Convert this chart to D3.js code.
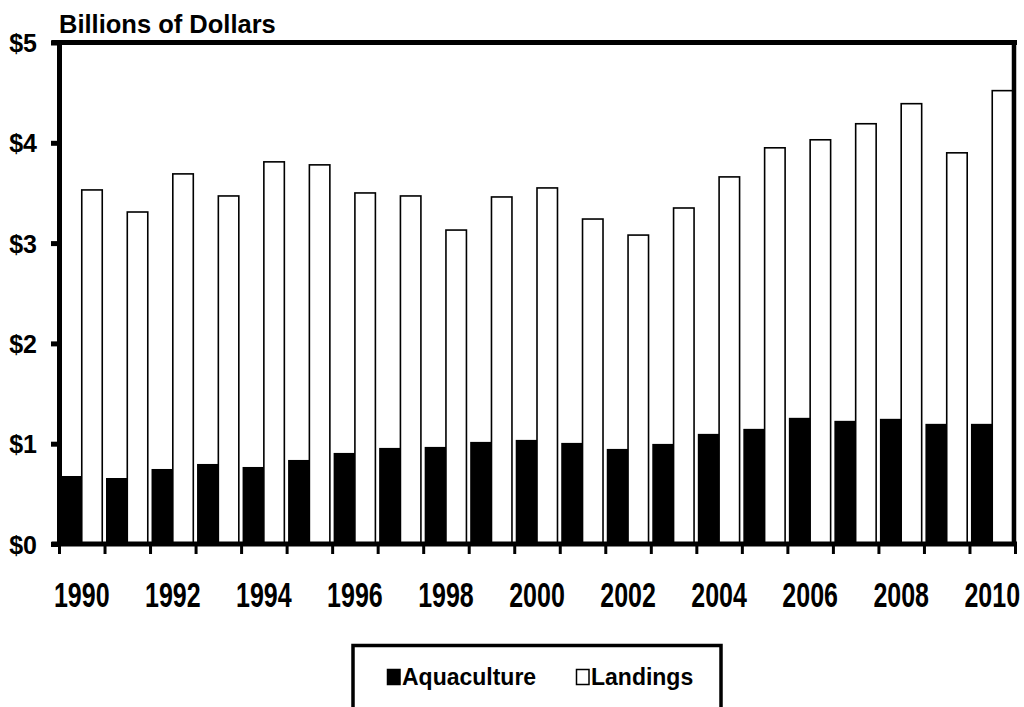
<!DOCTYPE html>
<html>
<head>
<meta charset="utf-8">
<script src="https://cdn.jsdelivr.net/npm/d3@7"></script>
<style>
  body { margin: 0; background: #fff; }
  svg text { font-family: "Liberation Sans", Arial, sans-serif; font-weight: bold; fill: #000; }
</style>
</head>
<body>
<script>
// data, billions of dollars
var years = d3.range(1990, 2011);
var aquaculture = [0.67, 0.65, 0.74, 0.79, 0.76, 0.83, 0.90, 0.95, 0.96, 1.01, 1.03,
                   1.00, 0.94, 0.99, 1.09, 1.14, 1.25, 1.22, 1.24, 1.19, 1.19];
var landings = [3.53, 3.31, 3.69, 3.47, 3.81, 3.78, 3.50, 3.47, 3.13, 3.46, 3.55,
                3.24, 3.08, 3.35, 3.66, 3.95, 4.03, 4.19, 4.39, 3.90, 4.52];
var yTicks = [0, 1, 2, 3, 4, 5];
var seriesNames = ['Aquaculture', 'Landings'];
var seriesFill = ['#000', '#fff'];

var width = 1024, height = 707;
// plot box (note: "top" is taken by window.top, so use p* names)
var pLeft = 59, pRight = 1015, pTop = 42.5, pBottom = 544;

var svg = d3.select('body').append('svg')
  .attr('width', width)
  .attr('height', height);

var x = d3.scaleBand()
  .domain(years)
  .range([pLeft, pRight])
  .paddingInner(0.1)
  .paddingOuter(0.05);

var xSub = d3.scaleBand()
  .domain(seriesNames)
  .range([0, x.bandwidth()]);

var y = d3.scaleLinear()
  .domain([0, 5])
  .range([pBottom, pTop]);

var rows = years.map((yr, i) => ({year: yr, values: [aquaculture[i], landings[i]]}));

// bars
var groups = svg.selectAll('g.year')
  .data(rows)
  .join('g')
    .attr('class', 'year')
    .attr('transform', d => `translate(${x(d.year)},0)`);

groups.selectAll('rect')
  .data(d => d.values.map((v, k) => ({name: seriesNames[k], v: v, k: k})))
  .join('rect')
    .attr('x', d => xSub(d.name))
    .attr('width', xSub.bandwidth())
    .attr('y', d => y(d.v))
    .attr('height', d => y(0) - y(d.v))
    .attr('fill', d => seriesFill[d.k])
    .attr('stroke', '#000')
    .attr('stroke-width', 1.6);

// y axis
var yAxis = svg.append('g')
  .attr('transform', `translate(${pLeft},0)`)
  .call(d3.axisLeft(y).tickValues(yTicks).tickSize(8).tickSizeOuter(0).tickPadding(14)
    .tickFormat(d => '$' + d));
yAxis.select('.domain').attr('stroke', '#000').attr('stroke-width', 5);
yAxis.selectAll('.tick line').attr('stroke', '#000').attr('stroke-width', 5);
yAxis.selectAll('.tick text').attr('font-size', 25).attr('dy', '0.36em');

// x axis: ticks sit on category boundaries
var xEdge = d3.scaleLinear().domain([1990, 2011]).range([pLeft, pRight]);
var xAxis = svg.append('g')
  .attr('transform', `translate(0,${pBottom})`)
  .call(d3.axisBottom(xEdge).tickValues(d3.range(1990, 2012)).tickSize(10).tickSizeOuter(0)
    .tickFormat(''));
xAxis.select('.domain').remove();
xAxis.selectAll('.tick line').attr('stroke', '#000').attr('stroke-width', 3);

svg.append('line')
  .attr('x1', 51.5).attr('x2', pRight + 2)
  .attr('y1', pBottom).attr('y2', pBottom)
  .attr('stroke', '#000').attr('stroke-width', 5);

// year labels (only even years), stretched tall like the original
svg.selectAll('text.year')
  .data(years.filter(d => d % 2 === 0))
  .join('text')
    .attr('class', 'year')
    .attr('text-anchor', 'middle')
    .attr('font-size', 25)
    .attr('transform', d => `translate(${x(d) + x.bandwidth() / 2},606.5) scale(1,1.4)`)
    .text(d => d);

// frame top + right
svg.append('line')
  .attr('x1', 51.5).attr('x2', pRight + 2)
  .attr('y1', pTop).attr('y2', pTop)
  .attr('stroke', '#000').attr('stroke-width', 5);
svg.append('line')
  .attr('x1', pRight - 1).attr('x2', pRight - 1)
  .attr('y1', pTop).attr('y2', pBottom)
  .attr('stroke', '#000').attr('stroke-width', 4.5);

svg.append('text')
  .attr('x', 59)
  .attr('y', 33)
  .attr('font-size', 25.5)
  .text('Billions of Dollars');

// legend
var legend = svg.append('g');
legend.append('rect')
  .attr('x', 353).attr('y', 645.5)
  .attr('width', 368).attr('height', 90)
  .attr('fill', 'none')
  .attr('stroke', '#000')
  .attr('stroke-width', 3.5);

var legendX = [387, 576];
var items = legend.selectAll('g.item')
  .data(seriesNames)
  .join('g')
    .attr('class', 'item')
    .attr('transform', (d, i) => `translate(${legendX[i]},0)`);
items.append('rect')
  .attr('x', 0.5).attr('y', 669.5)
  .attr('width', 12.5).attr('height', 15)
  .attr('fill', (d, i) => seriesFill[i])
  .attr('stroke', '#000')
  .attr('stroke-width', 1.5);
items.append('text')
  .attr('x', 15)
  .attr('y', 685)
  .attr('font-size', 23)
  .attr('transform', 'translate(0,685) scale(1,1.05) translate(0,-685)')
  .text(d => d);
</script>
</body>
</html>
